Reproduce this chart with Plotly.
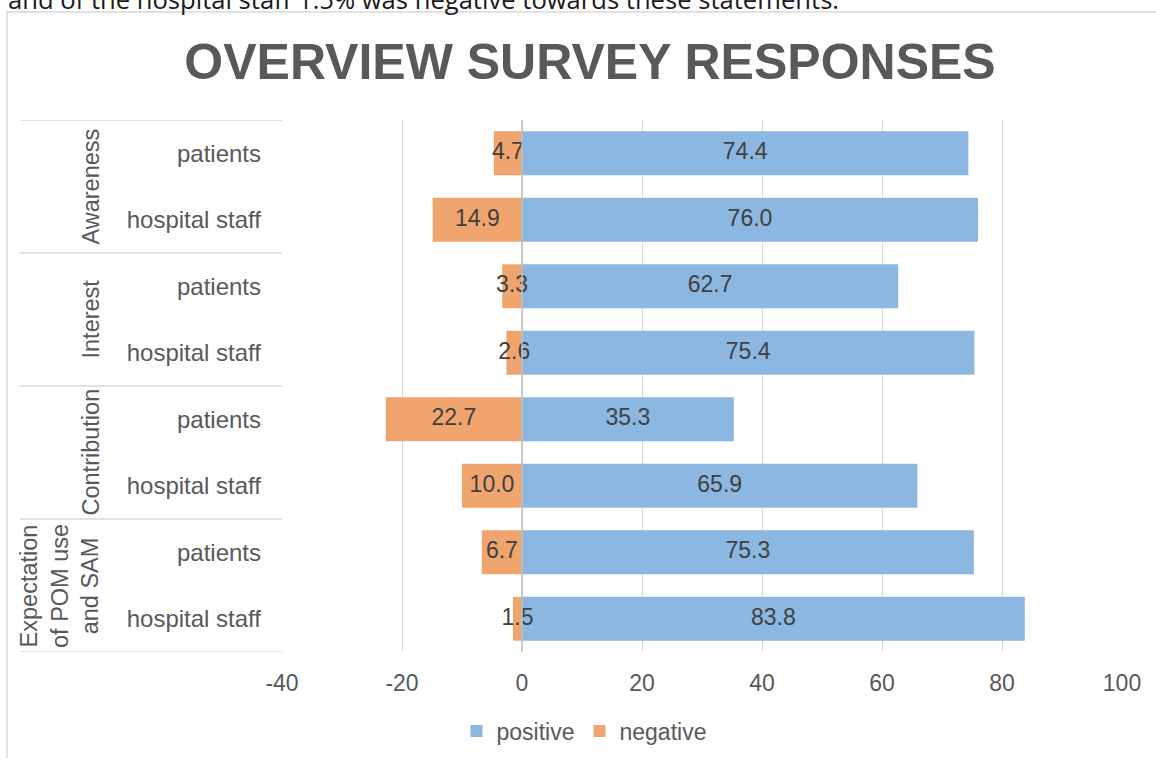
import plotly.graph_objects as go

# ---- data ----
groups = ["Awareness", "Awareness", "Interest", "Interest",
          "Contribution", "Contribution",
          "Expectation<br>of POM use<br>and SAM", "Expectation<br>of POM use<br>and SAM"]
subgroups = ["patients", "hospital staff", "patients", "hospital staff",
             "patients", "hospital staff", "patients", "hospital staff"]
positive = [74.4, 76.0, 62.7, 75.4, 35.3, 65.9, 75.3, 83.8]
negative = [4.7, 14.9, 3.3, 2.6, 22.7, 10.0, 6.7, 1.5]
x_ticks = [-40, -20, 0, 20, 40, 60, 80, 100]
x_tick_labels = ["-40", "-20", "0", "20", "40", "60", "80", "100"]

title_text = "OVERVIEW SURVEY RESPONSES"
top_text = "and of the hospital staff 1.5% was negative towards these statements."

# ---- layout geometry ----
W, H = 1156, 758
L, R, T, B = 282, 1122, 120, 652
def px(x):
    return (x - L) / (R - L)
def py(y):
    return (B - y) / (B - T)

FONT = "Liberation Sans, Arial, sans-serif"
GRAY = "#595959"
BLUE = "#8CB7E0"
ORANGE = "#F0A56E"

rows = list(range(len(subgroups)))

fig = go.Figure()
fig.add_trace(go.Bar(y=rows, x=positive, orientation="h", name="positive",
                     marker=dict(color=BLUE, line=dict(width=0))))
fig.add_trace(go.Bar(y=rows, x=[-v for v in negative], orientation="h", name="negative",
                     marker=dict(color=ORANGE, line=dict(width=0))))
# data labels
fig.add_trace(go.Scatter(y=rows, x=[v / 2 for v in positive], mode="text",
                         text=[f"{v:.1f}" for v in positive], showlegend=False,
                         textfont=dict(family=FONT, size=23, color="#404040"),
                         cliponaxis=False, hoverinfo="skip"))
fig.add_trace(go.Scatter(y=rows, x=[-v / 2 for v in negative], mode="text",
                         text=[f"{v:.1f}" for v in negative], showlegend=False,
                         textfont=dict(family=FONT, size=23, color="#404040"),
                         cliponaxis=False, hoverinfo="skip"))

shapes = []
# chart border
shapes.append(dict(type="rect", xref="paper", yref="paper",
                   x0=px(7), x1=px(1175), y0=py(800), y1=py(12),
                   line=dict(color="#D9D9D9", width=1.5), layer="below"))
# zero line
shapes.append(dict(type="line", xref="x", yref="paper", x0=0, x1=0, y0=0, y1=1,
                   line=dict(color="#BFBFBF", width=1.5), layer="above"))
# group separators
bounds = [-0.5]
for i in range(1, len(groups)):
    if groups[i] != groups[i - 1]:
        bounds.append(i - 0.5)
bounds.append(len(groups) - 0.5)
for b in bounds:
    shapes.append(dict(type="line", xref="paper", yref="y", x0=px(20), x1=px(282),
                       y0=b, y1=b, line=dict(color="#D9D9D9", width=1.5)))

annotations = []
# group labels
seen = []
for g in groups:
    if g not in seen:
        seen.append(g)
for g in seen:
    idx = [i for i, v in enumerate(groups) if v == g]
    annotations.append(dict(text=g, xref="paper", yref="y", x=px(105),
                            y=sum(idx) / len(idx), xanchor="right", yanchor="middle",
                            textangle=-90, showarrow=False,
                            font=dict(family=FONT, size=23.5, color=GRAY)))
# text from the document above the chart
annotations.append(dict(text=top_text, xref="paper", yref="paper", x=px(6), y=py(19),
                        xanchor="left", yanchor="bottom", showarrow=False,
                        font=dict(family="Open Sans, sans-serif", size=25.6, color="#1a1a1a")))

fig.update_layout(
    width=W, height=H,
    margin=dict(l=L, r=W - R, t=T, b=H - B, pad=0, autoexpand=False),
    paper_bgcolor="white", plot_bgcolor="white",
    barmode="relative", bargap=0.34,
    title=dict(text=f"<b>{title_text}</b>", x=590 / W, xref="container", xanchor="center",
               y=1 - 61 / H, yref="container", yanchor="middle",
               font=dict(family=FONT, size=50, color=GRAY)),
    xaxis=dict(range=[-40, 100], tickvals=x_ticks, ticktext=x_tick_labels,
               showgrid=True, gridcolor="#D9D9D9",
               gridwidth=1, zeroline=False, showline=False, ticks="",
               ticklabelstandoff=15, automargin=False,
               tickfont=dict(family=FONT, size=23, color=GRAY)),
    yaxis=dict(range=[len(rows) - 0.5, -0.5], tickvals=rows, ticktext=subgroups,
               showgrid=False, zeroline=False, showline=False, ticks="",
               ticklabelstandoff=20, automargin=False,
               tickfont=dict(family=FONT, size=24, color=GRAY)),
    legend=dict(orientation="h", x=px(584), y=py(731), xanchor="center", yanchor="middle",
                font=dict(family=FONT, size=23, color=GRAY), bgcolor="rgba(0,0,0,0)"),
    shapes=shapes, annotations=annotations,
    showlegend=True,
)

fig.write_html("out.html", config={"displayModeBar": False},
               post_script="document.body.style.margin='0px';document.body.style.overflow='hidden';")
